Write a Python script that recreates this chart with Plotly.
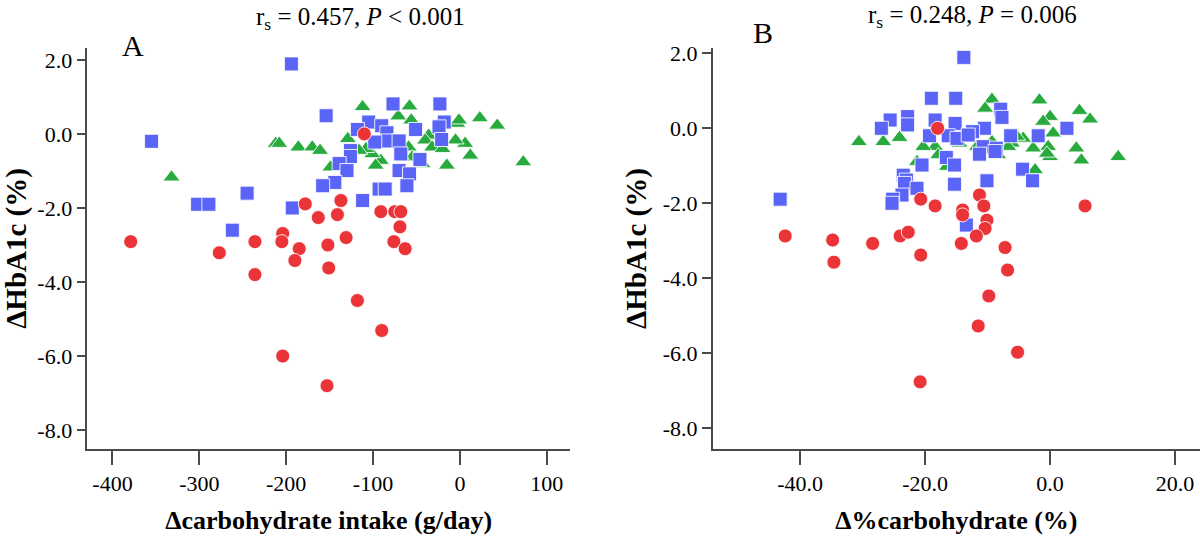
import plotly.graph_objects as go

# ---------------- Data ----------------
# Panel A: Δcarbohydrate intake (g/day) vs ΔHbA1c (%)
A_red_x = [-110, -178, -137, -91, -75, -68, -163, -141, -379, -277, -236, -236, -204, -205,
           -185, -190, -152, -131, -151, -118, -90, -204, -153, -69, -76, -63]
A_red_y = [0.0, -1.89, -1.8, -2.1, -2.1, -2.1, -2.26, -2.18, -2.91, -3.21, -2.91, -3.8, -2.69, -2.91,
           -3.1, -3.42, -3.0, -2.8, -3.62, -4.5, -5.31, -6.0, -6.8, -2.51, -2.91, -3.1]

A_blue_x = [-194, -355, -154, -77, -23, -18, -24, -21, -105, -90, -118, -84, -51, -83, -70, -98,
            -68, -126, -126, -46, -139, -130, -70, -58, -144, -158, -93, -86, -61, -245, -302,
            -289, -112, -193, -262]
A_blue_y = [1.89, -0.2, 0.49, 0.81, 0.81, 0.32, 0.19, -0.15, 0.32, 0.22, 0.12, 0.03, 0.12, -0.19,
            -0.19, -0.22, -0.54, -0.45, -0.61, -0.69, -0.8, -0.99, -0.99, -1.08, -1.31, -1.4,
            -1.49, -1.49, -1.4, -1.6, -1.9, -1.9, -1.8, -2.0, -2.6]

A_green_x = [-112, -58, -71, -56, 23, 43, -3, -1, -212, -208, -186, -170, -161, -129, -332, 73,
             -15, 12, 6, -36, -40, -32, -43, -91, -97, -101, -108, -59, -116, -149, -55, -20, -5, -67]
A_green_y = [0.73, 0.75, 0.48, 0.37, 0.43, 0.23, 0.28, 0.37, -0.26, -0.26, -0.36, -0.36, -0.45,
             -0.13, -1.17, -0.76, -0.85, -0.58, -0.26, -0.04, -0.17, -0.36, -0.81, -0.72, -0.85,
             -0.54, -0.4, -0.36, -0.45, -0.9, -0.63, -0.4, -0.17, -0.63]

# Panel B: Δ%carbohydrate (%) vs ΔHbA1c (%)
B_red_x = [-18.0, -20.7, -18.4, -14.0, -11.3, -10.6, -10.1, 5.6, -14.0, -10.4, -42.4, -34.8, -34.6,
           -28.4, -24.0, -22.7, -20.7, -14.2, -11.8, -7.2, -6.8, -9.8, -11.5, -5.2, -20.8]
B_red_y = [0.0, -1.89, -2.07, -2.18, -1.78, -2.07, -2.45, -2.07, -2.31, -2.67, -2.87, -2.98, -3.57,
           -3.07, -2.87, -2.77, -3.38, -3.07, -2.87, -3.18, -3.78, -4.47, -5.27, -5.97, -6.76]

B_blue_x = [-13.8, -19.0, -15.1, -7.9, -7.7, -22.8, -25.6, -27.0, -22.8, -18.4, -15.2, -10.5, -12.4,
            -19.3, -16.3, -14.9, -13.1, -6.3, -1.9, 2.7, -10.7, -8.6, -8.8, -11.3, -16.6, -20.5,
            -15.3, -4.4, -2.8, -10.1, -15.3, -23.5, -23.0, -23.3, -21.3, -23.7, -25.2, -25.3,
            -43.2, -13.4]
B_blue_y = [1.89, 0.8, 0.8, 0.51, 0.29, 0.31, 0.22, 0.0, 0.09, 0.22, 0.13, 0.0, -0.09, -0.2, -0.2,
            -0.27, -0.18, -0.2, -0.2, 0.0, -0.49, -0.53, -0.62, -0.69, -0.78, -0.98, -0.98, -1.09,
            -1.4, -1.4, -1.49, -1.25, -1.38, -1.47, -1.6, -1.78, -1.89, -2.0, -1.89, -2.58]

B_green_x = [-9.3, -1.7, -10.4, 4.7, 6.4, 0.0, -1.1, 0.5, -30.6, -26.7, -24.1, 10.9, 4.2, 5.0, -0.3,
             0.0, -0.5, -2.7, -4.3, -6.1, -8.3, -9.3, -11.7, -14.5, -18.4, -20.3, -21.3, -16.5,
             -2.4, -17.9, -5.3, -6.7]
B_green_y = [0.77, 0.75, 0.53, 0.47, 0.24, 0.31, 0.18, -0.13, -0.36, -0.36, -0.25, -0.76, -0.53,
             -0.85, -0.49, -0.76, -0.67, -0.53, -0.27, -0.4, -0.71, -0.36, -0.49, -0.4, -0.49,
             -0.49, -0.89, -1.02, -1.11, -0.71, -0.22, -0.49]

# Tick labels
y_ticks = [-8.0, -6.0, -4.0, -2.0, 0.0, 2.0]
y_ticktext = ["-8.0", "-6.0", "-4.0", "-2.0", "0.0", "2.0"]
A_x_ticks = [-400, -300, -200, -100, 0, 100]
A_x_ticktext = ["-400", "-300", "-200", "-100", "0", "100"]
B_x_ticks = [-40.0, -20.0, 0.0, 20.0]
B_x_ticktext = ["-40.0", "-20.0", "0.0", "20.0"]

# Texts
A_x_title = "Δcarbohydrate intake (g/day)"
B_x_title = "Δ%carbohydrate (%)"
y_title = "ΔHbA1c (%)"
A_stat = "r<sub>s</sub> = 0.457, <i>P</i> &lt; 0.001"
B_stat = "r<sub>s</sub> = 0.248, <i>P</i> = 0.006"

# ---------------- Styles ----------------
RED = "rgb(234,52,56)"
BLUE = "rgb(90,100,246)"
GREEN = "rgb(40,170,62)"
FONT = "Liberation Serif, Times New Roman, serif"
AXC = "#4a4a4a"

fig = go.Figure()

def add_group(x, y, xa, ya, color, symbol, size):
    fig.add_trace(go.Scatter(
        x=x, y=y, mode="markers", xaxis=xa, yaxis=ya, showlegend=False,
        marker=dict(color=color, symbol=symbol, size=size,
                    line=dict(color="rgba(255,255,255,0.85)", width=1)),
    ))

add_group(A_green_x, A_green_y, "x", "y", GREEN, "triangle-up", 15)
add_group(A_blue_x, A_blue_y, "x", "y", BLUE, "square", 14)
add_group(A_red_x, A_red_y, "x", "y", RED, "circle", 14)
add_group(B_green_x, B_green_y, "x2", "y2", GREEN, "triangle-up", 15)
add_group(B_blue_x, B_blue_y, "x2", "y2", BLUE, "square", 14)
add_group(B_red_x, B_red_y, "x2", "y2", RED, "circle", 14)

W, H = 1200, 539
tickfont = dict(family=FONT, size=22, color="black")
titlefont = dict(family=FONT, size=26, color="black")

def xax(domain, rng, tv, tt, title, anchor):
    return dict(domain=domain, range=rng, tickvals=tv, ticktext=tt, ticks="outside", ticklen=14,
                tickwidth=1.5, tickcolor=AXC, showline=True, linecolor=AXC, linewidth=1.5,
                showgrid=False, zeroline=False, tickfont=tickfont, anchor=anchor,
                automargin=False,
                title=dict(text="<b>" + title + "</b>", font=titlefont, standoff=16))

def yax(domain, rng, anchor):
    return dict(domain=domain, range=rng, tickvals=y_ticks, ticktext=y_ticktext, ticks="outside",
                ticklen=9, tickwidth=1.5, tickcolor=AXC, showline=True, linecolor=AXC,
                linewidth=1.5, showgrid=False, zeroline=False, tickfont=tickfont, anchor=anchor,
                automargin=False,
                title=dict(text="<b>" + y_title + "</b>",
                           font=dict(family=FONT, size=29, color="black"), standoff=8))

ydom = [(H - 449) / H, (H - 48) / H]
fig.update_layout(
    width=W, height=H, margin=dict(l=0, r=0, t=0, b=0),
    paper_bgcolor="white", plot_bgcolor="white", showlegend=False,
    xaxis=xax([87.3 / W, 570 / W], [-429, 126.8], A_x_ticks, A_x_ticktext, A_x_title, "y"),
    yaxis=yax(ydom, [-8.51, 2.32], "x"),
    xaxis2=xax([712.7 / W, 1.0], [-54.0, 24.0], B_x_ticks, B_x_ticktext, B_x_title, "y2"),
    yaxis2=yax(ydom, [-8.55, 2.14], "x2"),
    annotations=[
        dict(text=A_stat, x=360 / W, y=1 - 19 / H, xref="paper", yref="paper", showarrow=False,
             xanchor="center", yanchor="middle", font=dict(family=FONT, size=25, color="black")),
        dict(text=B_stat, x=972 / W, y=1 - 17 / H, xref="paper", yref="paper", showarrow=False,
             xanchor="center", yanchor="middle", font=dict(family=FONT, size=25, color="black")),
        dict(text="A", x=133 / W, y=1 - 45 / H, xref="paper", yref="paper", showarrow=False,
             xanchor="center", yanchor="middle", font=dict(family=FONT, size=30, color="black")),
        dict(text="B", x=763 / W, y=1 - 33 / H, xref="paper", yref="paper", showarrow=False,
             xanchor="center", yanchor="middle", font=dict(family=FONT, size=30, color="black")),
    ],
)

fig.write_html("out.html",
               config={"displayModeBar": False},
               post_script="document.body.style.margin='0';document.documentElement.style.overflow='hidden';")
